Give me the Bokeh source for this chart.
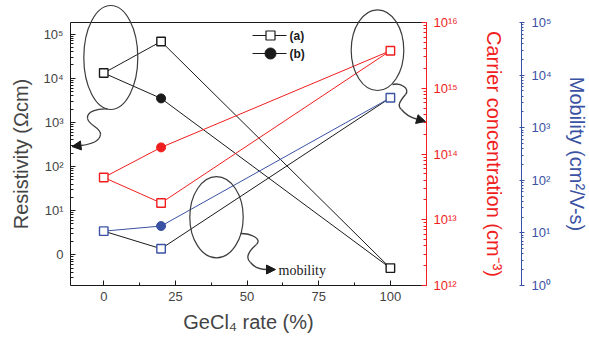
from bokeh.plotting import figure
from bokeh.models import (Range1d, LinearScale, LogScale, LogAxis, LinearAxis, FixedTicker,
                          CustomJSTickFormatter, Label, Arrow, NormalHead)
from bokeh.embed import file_html
from bokeh.resources import INLINE

# ---------------- data ----------------
rate = [0, 20, 100]                      # GeCl4 rate (%)
res_a = [1.31e4, 6.8e4, 0.50]            # resistivity (a), ohm cm
res_b = [1.31e4, 3.49e3, 0.50]           # resistivity (b)
car_a = [4.4e13, 1.8e13, 3.72e15]        # carrier concentration (a), cm^-3
car_b = [4.4e13, 1.26e14, 3.72e15]       # carrier concentration (b)
mob_a = [10.8, 5.0, 3700]                # mobility (a), cm2/V-s
mob_b = [10.8, 13.5, 3700]               # mobility (b)

x_ticks = [0, 25, 50, 75, 100]
x_minor = [12.5, 37.5, 62.5, 87.5]
res_ticks = [1, 10, 100, 1e3, 1e4, 1e5]
res_tick_labels = ["0", "10¹", "10²", "10³", "10⁴", "10⁵"]
car_ticks = [1e12, 1e13, 1e14, 1e15, 1e16]
car_tick_labels = ["10¹²", "10¹³", "10¹⁴", "10¹⁵", "10¹⁶"]
mob_ticks = [1, 10, 100, 1e3, 1e4, 1e5]
mob_tick_labels = ["10⁰", "10¹", "10²", "10³", "10⁴", "10⁵"]

# ---------------- style ----------------
BLACK = "#1a1a1a"
RED = "#f01e1e"
BLUE = "#3a52a3"
GREY = "#3c3c3c"
FONT = "Liberation Sans"

def minors(lo_exp, hi_exp):
    return [m * 10.0 ** e for e in range(lo_exp, hi_exp + 1) for m in range(2, 10)]

fmt_code = """
let best = 0, bd = Infinity;
for (let i = 0; i < tks.length; i++) {
  const d = Math.abs(Math.log10(tks[i]) - Math.log10(tick));
  if (d < bd) { bd = d; best = i; }
}
return lbls[best];
"""

p = figure(frame_width=356, frame_height=263,
           x_range=Range1d(-11.6, 112.6),
           y_range=Range1d(10 ** -0.695, 10 ** 5.262),
           y_axis_type="log", output_backend="svg", toolbar_location=None,
           min_border_left=70, min_border_top=22, min_border_right=0, min_border_bottom=0,
           outline_line_color=None, background_fill_color="white", border_fill_color="white")
p.xgrid.visible = False
p.ygrid.visible = False

p.extra_y_ranges = {"car": Range1d(1e12, 1e16), "mob": Range1d(1, 1e5), "py": Range1d(285, 22)}
p.extra_x_ranges = {"px": Range1d(70, 426)}
p.extra_y_scales = {"car": LogScale(), "mob": LogScale(), "py": LinearScale()}
p.extra_x_scales = {"px": LinearScale()}

# bottom axis
xa = p.xaxis[0]
xa.ticker = FixedTicker(ticks=x_ticks, minor_ticks=x_minor)
xa.axis_label = "GeCl₄ rate (%)"
xa.major_tick_in = 5; xa.major_tick_out = 0
xa.minor_tick_in = 3; xa.minor_tick_out = 0
xa.major_label_standoff = 6
xa.axis_label_standoff = 7
xa.major_label_text_font = FONT; xa.major_label_text_font_size = "13px"
xa.axis_label_text_font = FONT; xa.axis_label_text_font_size = "20px"
xa.axis_label_text_font_style = "normal"
xa.axis_line_color = BLACK; xa.major_tick_line_color = BLACK; xa.minor_tick_line_color = BLACK

# left axis
ya = p.yaxis[0]
ya.ticker = FixedTicker(ticks=res_ticks, minor_ticks=minors(-1, 5))
ya.formatter = CustomJSTickFormatter(args=dict(tks=res_ticks, lbls=res_tick_labels), code=fmt_code)
ya.axis_label = "Resistivity (Ωcm)"
ya.major_tick_in = 5; ya.major_tick_out = 0
ya.minor_tick_in = 3; ya.minor_tick_out = 0
ya.major_label_standoff = 7
ya.axis_label_standoff = 8
ya.major_label_text_font = FONT; ya.major_label_text_font_size = "13px"
ya.axis_label_text_font = FONT; ya.axis_label_text_font_size = "20px"
ya.axis_label_text_font_style = "normal"
ya.axis_line_color = BLACK; ya.major_tick_line_color = BLACK; ya.minor_tick_line_color = BLACK

# top border line
top = LinearAxis(x_range_name="px", ticker=FixedTicker(ticks=[]), major_tick_out=0, major_tick_in=0,
                 minor_tick_out=0, minor_tick_in=0, major_label_standoff=0,
                 major_label_text_font_size="0px", axis_line_color=BLACK)
p.add_layout(top, "above")

# red axis
ra = LogAxis(y_range_name="car", ticker=FixedTicker(ticks=car_ticks, minor_ticks=minors(12, 15)),
             formatter=CustomJSTickFormatter(args=dict(tks=car_ticks, lbls=car_tick_labels), code=fmt_code),
             axis_label="Carrier concentration (cm⁻³)")
ra.major_tick_in = 5; ra.major_tick_out = 0
ra.minor_tick_in = 3; ra.minor_tick_out = 0
ra.major_label_standoff = 7
ra.axis_label_standoff = 22
ra.major_label_text_font = FONT; ra.major_label_text_font_size = "13px"
ra.major_label_text_color = RED
ra.axis_label_text_font = FONT; ra.axis_label_text_font_size = "20px"
ra.axis_label_text_font_style = "normal"; ra.axis_label_text_color = RED
ra.axis_line_color = RED; ra.major_tick_line_color = RED; ra.minor_tick_line_color = RED
p.add_layout(ra, "right")

# spacer between the two right axes (one invisible tick gives it width)
sp = LinearAxis(y_range_name="py", ticker=FixedTicker(ticks=[150]),
                formatter=CustomJSTickFormatter(code="return ''"),
                major_tick_out=14, major_tick_in=0, minor_tick_out=0, minor_tick_in=0,
                major_label_standoff=0, major_tick_line_color=None, axis_line_color=None)
p.add_layout(sp, "right")

# blue axis
ba = LogAxis(y_range_name="mob", ticker=FixedTicker(ticks=mob_ticks, minor_ticks=minors(0, 4)),
             formatter=CustomJSTickFormatter(args=dict(tks=mob_ticks, lbls=mob_tick_labels), code=fmt_code),
             axis_label="Mobility (cm²/V-s)")
ba.major_tick_in = 2; ba.major_tick_out = 3
ba.minor_tick_in = 0; ba.minor_tick_out = 2
ba.major_label_standoff = 7
ba.axis_label_standoff = 11
ba.major_label_text_font = FONT; ba.major_label_text_font_size = "13px"
ba.major_label_text_color = BLUE
ba.axis_label_text_font = FONT; ba.axis_label_text_font_size = "20px"
ba.axis_label_text_font_style = "normal"; ba.axis_label_text_color = BLUE
ba.axis_line_color = BLUE; ba.major_tick_line_color = BLUE; ba.minor_tick_line_color = BLUE
p.add_layout(ba, "right")

# ---------------- series ----------------
p.line(rate, res_a, line_color=BLACK, line_width=1)
p.line(rate, res_b, line_color=BLACK, line_width=1)
p.line(rate, car_a, y_range_name="car", line_color=RED, line_width=1)
p.line(rate, car_b, y_range_name="car", line_color=RED, line_width=1)
p.line(rate, mob_a, y_range_name="mob", line_color=BLACK, line_width=1)
p.line(rate, mob_b, y_range_name="mob", line_color=BLUE, line_width=1)

p.scatter(rate, res_a, marker="square", size=8.5, fill_color="white", line_color=BLACK, line_width=1.4)
p.scatter(rate[1:2], res_b[1:2], marker="circle", size=9, fill_color=BLACK, line_color=BLACK)
p.scatter(rate, car_a, y_range_name="car", marker="square", size=8.5, fill_color="white", line_color=RED, line_width=1.4)
p.scatter(rate[1:2], car_b[1:2], y_range_name="car", marker="circle", size=9, fill_color=RED, line_color=RED)
p.scatter(rate, mob_a, y_range_name="mob", marker="square", size=8.5, fill_color="white", line_color=BLUE, line_width=1.4)
p.scatter(rate[1:2], mob_b[1:2], y_range_name="mob", marker="circle", size=9, fill_color=BLUE, line_color=BLUE)

# ---------------- decorations (page-pixel coordinates) ----------------
deco = dict(x_range_name="px", y_range_name="py")
p.ellipse(x=[110.3, 377, 216], y=[57, 49.7, 216.7], width=[54, 52.6, 53.4], height=[104, 80.7, 81.3],
          width_units="screen", height_units="screen", fill_color=None, line_color=GREY,
          line_width=1.2, level="overlay", **deco)

p.bezier(x0=[107, 87, 100, 392, 405, 401, 240, 256, 250],
         y0=[108.5, 118, 134, 84, 94, 109, 233, 244, 262],
         x1=[87, 100, 80, 405, 401, 416, 256, 250, 266],
         y1=[118, 134, 145, 94, 109, 118.5, 244, 262, 269],
         cx0=[97, 88, 99, 400, 400, 405, 250, 249, 254],
         cy0=[108, 125, 141, 82, 100, 114, 233, 250, 267],
         cx1=[86, 101, 90, 410, 396, 410, 262, 244, 260],
         cy1=[111, 127, 144, 88, 105, 117, 238, 257, 269],
         line_color=GREY, line_width=1.3, **deco)

for xs, ys, xe, ye in [(80, 145, 71.5, 146), (416, 118.5, 425, 121), (266, 269, 275, 269)]:
    p.add_layout(Arrow(end=NormalHead(size=9, fill_color=BLACK, line_color=BLACK),
                       x_start=xs, y_start=ys, x_end=xe, y_end=ye,
                       line_color=GREY, line_width=1.3, **deco))

p.add_layout(Label(x=278, y=270, text="mobility", text_baseline="middle",
                   text_font="Liberation Serif", text_font_size="14px", text_color=BLACK, **deco))

# legend
p.line(x=[252, 286], y=[35, 35], line_color=BLACK, line_width=1, **deco)
p.scatter(x=[270], y=[35], marker="square", size=9, fill_color="white", line_color=BLACK, line_width=1.2, **deco)
p.line(x=[252, 286], y=[53, 53], line_color=BLACK, line_width=1, **deco)
p.scatter(x=[270], y=[53], marker="circle", size=11, fill_color=BLACK, line_color=BLACK, **deco)
p.add_layout(Label(x=289, y=35, text="(a)", text_baseline="middle", text_font=FONT,
                   text_font_size="12px", text_font_style="bold", text_color=BLACK, **deco))
p.add_layout(Label(x=289, y=53, text="(b)", text_baseline="middle", text_font=FONT,
                   text_font_size="12px", text_font_style="bold", text_color=BLACK, **deco))

open("out.html", "w").write(file_html(p, INLINE))
